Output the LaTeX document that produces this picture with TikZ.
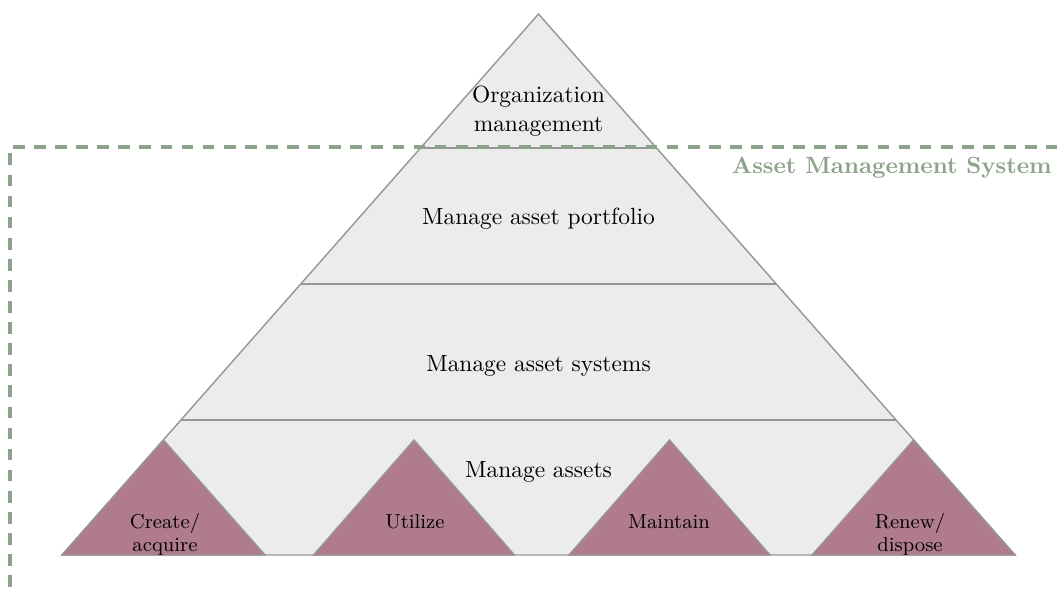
\documentclass[tikz,border=0pt]{standalone}

\definecolor{pyrgray}{RGB}{236,236,236}
\definecolor{pyredge}{RGB}{150,150,150}
\definecolor{lifemauve}{RGB}{176,123,140}
\definecolor{amsgreen}{RGB}{141,162,138}

\tikzset{
  layer/.style={draw=pyredge, line width=0.9pt},
  lifecycle/.style={fill=lifemauve, draw=pyredge, line width=0.6pt},
  lvltext/.style={align=center, inner sep=0pt},
  lctext/.style={align=center, inner sep=0pt, font=\fontsize{8.6}{9.6}\selectfont},
}

\begin{document}
\begin{tikzpicture}[x=0.015cm, y=0.015cm]
                \clip (0,0) rectangle (1057,588);
                \draw [fill=pyrgray, draw=pyredge, line width=0.6pt] (62,33) -- (538.5,574) -- (1015,33) -- cycle;
                \draw [layer] (420.5,440) -- (656.5,440);
                \draw [layer] (300.7,304) -- (776.3,304);
                \draw [layer] (180.9,168) -- (896.1,168);
                \draw [lifecycle] (62,33) -- (163.5,148) -- (265,33) -- cycle;
                \draw [lifecycle] (313.5,33) -- (414,148) -- (514.5,33) -- cycle;
                \draw [lifecycle] (569,33) -- (669.5,148) -- (770,33) -- cycle;
                \draw [lifecycle] (812,33) -- (913.5,148) -- (1015,33) -- cycle;
                \draw (538.5,502) node [lvltext, anchor=north] (org) {Organization\\management};
                \draw (538.5,364) node [lvltext, anchor=base] (portfolio) {Manage asset portfolio};
                \draw (538.5,217) node [lvltext, anchor=base] (systems) {Manage asset systems};
                \draw (538.5,111) node [lvltext, anchor=base] (assets) {Manage assets};
                \draw (165,75) node [lctext, anchor=north] (create) {Create/\\acquire};
                \draw (415,60) node [lctext, anchor=base] (utilize) {Utilize};
                \draw (669,60) node [lctext, anchor=base] (maintain) {Maintain};
                \draw (910,75) node [lctext, anchor=north] (renew) {Renew/\\dispose};
                \draw [amsgreen, line width=1.4pt, dash pattern=on 5pt off 4pt] (10,-20) rectangle (1100,441);
                \draw (1052,415) node [anchor=base east, inner sep=0pt, text=amsgreen, font=\bfseries] (ams) {Asset Management System};
\end{tikzpicture}
\end{document}
